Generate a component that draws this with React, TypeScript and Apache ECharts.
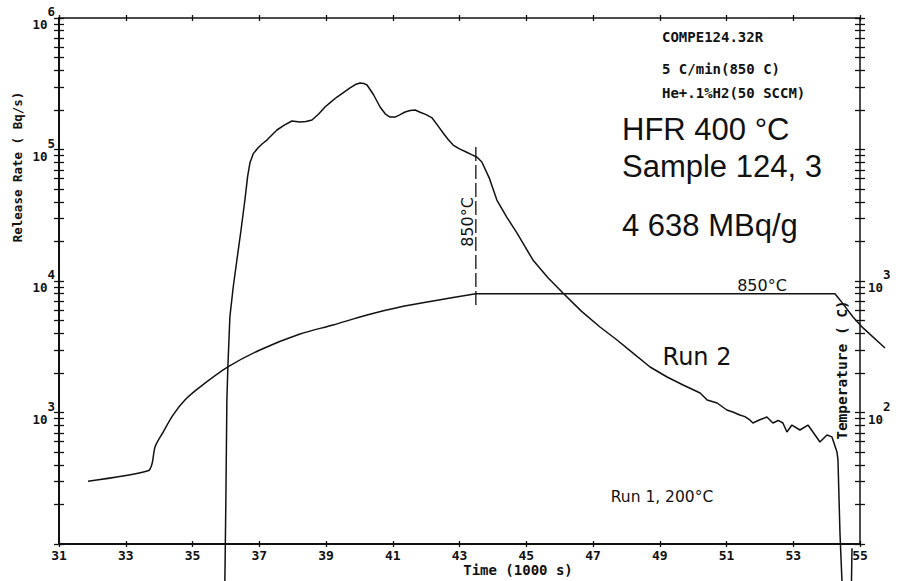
import React, { useEffect, useRef } from "react";
import * as echarts from "echarts";

// ---- Data ----
const timeTicks = [31, 33, 35, 37, 39, 41, 43, 45, 47, 49, 51, 53, 55];

const rateLabelValues = [1e3, 1e4, 1e5, 1e6];
const rateTickValues = [
  100, 200, 300, 400, 500, 600, 700, 800, 900,
  1000, 2000, 3000, 4000, 5000, 6000, 7000, 8000, 9000,
  10000, 20000, 30000, 40000, 50000, 60000, 70000, 80000, 90000,
  100000, 200000, 300000, 400000, 500000, 600000, 700000, 800000, 900000,
  1000000,
];

const tempLabelValues = [100, 1000];
const tempTickValues = [
  10, 20, 30, 40, 50, 60, 70, 80, 90,
  100, 200, 300, 400, 500, 600, 700, 800, 900,
  1000, 2000, 3000, 4000, 5000, 6000, 7000, 8000, 9000,
  10000, 20000, 30000, 40000, 50000, 60000, 70000, 80000, 90000,
  100000,
];

// Run 2 release rate (Bq/s) vs time (1000 s)
const run2Time = [
  35.94, 35.97, 36.0, 36.03, 36.06, 36.12, 36.22, 36.33, 36.45, 36.57,
  36.65, 36.72, 36.82, 36.96, 37.1, 37.23, 37.38, 37.53, 37.75, 37.98,
  38.22, 38.4, 38.58, 38.78, 38.97, 39.15, 39.33, 39.52, 39.72, 39.88,
  40.02, 40.13, 40.23, 40.42, 40.62, 40.78, 40.92, 41.07, 41.22, 41.37,
  41.52, 41.67, 41.82, 42.0, 42.18, 42.35, 42.51, 42.66, 42.81, 43.0,
  43.2, 43.36, 43.52, 43.67, 43.9, 44.12, 44.42, 44.72, 45.2, 45.65,
  46.1, 46.65, 47.21, 47.72, 48.2, 48.71, 49.22, 49.7, 50.21, 50.42,
  50.72, 51.01, 51.19, 51.4, 51.55, 51.7, 51.79, 52.0, 52.21, 52.39,
  52.55, 52.69, 52.81, 52.96, 53.2, 53.44, 53.59, 53.8, 54.01, 54.16,
  54.31, 54.34, 54.4, 54.46, 54.73, 54.76,
];
const run2Rate = [
  26, 52, 216, 1245, 2218, 5325, 9000, 14450, 24000, 41300,
  62000, 78900, 93000, 102600, 111000, 118000, 129000, 140700, 153000, 164800,
  161900, 163000, 167600, 186000, 210400, 230000, 250600, 271000, 294000, 312000,
  320500, 318000, 309500, 262000, 210400, 186000, 176500, 176500, 184000, 192800,
  198000, 199500, 192000, 184000, 173800, 152000, 133400, 119000, 108100, 101000,
  95700, 91500, 87700, 80400, 60000, 41300, 30500, 23200, 14450, 10600,
  8110, 5900, 4470, 3560, 2830, 2218, 1862, 1618, 1406, 1245,
  1181, 1045, 1009, 958, 930, 877, 832, 880, 925, 832,
  870, 832, 711, 803, 736, 803, 711, 597, 675, 652,
  501, 436, 121, 52, 30, 93,
];

// Temperature (°C) vs time (1000 s): heating ramp, then plateau and cool-down
const tempRampTime = [
  31.87, 33.67, 33.79, 33.88, 34.12, 34.42, 34.78, 35.22, 36.06, 37.02,
  38.22, 39.21, 40.23, 41.22, 42.21, 43.49,
];
const tempRampValue = [
  30, 36, 41, 55, 71, 96, 125, 156, 222, 299,
  395, 463, 551, 634, 704, 800,
];
const tempHoldTime = [43.49, 54.25, 54.4, 54.79, 55.09, 55.75];
const tempHoldValue = [800, 800, 718, 532, 440, 309];

// 850 °C marker (dashed)
const markerTime = [43.49, 43.49];
const markerRate = [104500, 6560];

const MONO = "'DejaVu Sans Mono', monospace";
const HAND = "'DejaVu Sans', sans-serif";
const SANS = "'Liberation Sans', Arial, sans-serif";

export default function App() {
  const ref = useRef<HTMLDivElement>(null);

  useEffect(() => {
    if (!ref.current) return;
    const chart = echarts.init(ref.current, null, { renderer: "svg" });

    const powLabel = (v: number) => {
      const p = Math.round(Math.log10(v));
      return `{b|10}{s|${p}}`;
    };
    const rich = {
      b: {
        fontFamily: MONO,
        fontWeight: "bold",
        fontSize: 12.5,
        color: "#111",
        padding: [13, 0, 0, 0],
      },
      s: {
        fontFamily: MONO,
        fontWeight: "bold",
        fontSize: 12.5,
        color: "#111",
        verticalAlign: "top",
      },
    };

    const lineCol = "#111";
    const xBase = (position: string, inside: boolean, labels: boolean, lineW: number, showLine: boolean) => ({
      type: "value",
      position,
      min: 31,
      max: 55,
      splitLine: { show: false },
      axisLine: { show: showLine, onZero: false, lineStyle: { color: lineCol, width: lineW } },
      axisTick: {
        show: true,
        inside,
        length: 3,
        customValues: timeTicks,
        lineStyle: { color: lineCol, width: 1.3 },
      },
      axisLabel: labels
        ? {
            show: true,
            customValues: timeTicks,
            margin: 5,
            fontFamily: MONO,
            fontWeight: "bold",
            fontSize: 13,
            color: "#111",
          }
        : { show: false },
    });

    const yRate = (inside: boolean, labels: boolean) => ({
      type: "log",
      logBase: 10,
      position: "left",
      min: 100,
      max: 1000000,
      splitLine: { show: false },
      axisLine: { show: !inside, onZero: false, lineStyle: { color: lineCol, width: 2 } },
      axisTick: {
        show: true,
        inside,
        length: 5,
        customValues: rateTickValues,
        lineStyle: { color: lineCol, width: 1.3 },
      },
      axisLabel: labels
        ? { show: true, customValues: rateLabelValues, margin: 4, formatter: powLabel, rich }
        : { show: false },
    });

    const yTemp = (inside: boolean, labels: boolean) => ({
      type: "log",
      logBase: 10,
      position: "right",
      min: 10,
      max: 100000,
      splitLine: { show: false },
      axisLine: { show: !inside, onZero: false, lineStyle: { color: lineCol, width: 1.5 } },
      axisTick: {
        show: true,
        inside,
        length: 5,
        customValues: tempTickValues,
        lineStyle: { color: lineCol, width: 1.3 },
      },
      axisLabel: labels
        ? { show: true, customValues: tempLabelValues, margin: 8, formatter: powLabel, rich }
        : { show: false },
    });

    const txt = (
      text: string,
      x: number,
      y: number,
      fontSize: number,
      fontFamily: string,
      opts: any = {}
    ) => ({
      type: "text",
      x,
      y,
      rotation: opts.rotation || 0,
      silent: true,
      z: 100,
      style: {
        text,
        fontSize,
        fontFamily,
        fontWeight: opts.weight || "normal",
        fill: "#111",
        textAlign: opts.align || "left",
        textVerticalAlign: "middle",
        align: opts.align || "left",
        verticalAlign: "middle",
      },
    });

    const option: any = {
      animation: false,
      backgroundColor: "#fff",
      grid: { left: 59, right: 39, top: 18, bottom: 37, containLabel: false },
      xAxis: [
        xBase("bottom", false, true, 2, true),
        xBase("bottom", true, false, 2, false),
        xBase("top", false, false, 1.5, true),
        xBase("top", true, false, 1.5, false),
      ],
      yAxis: [yRate(false, true), yRate(true, false), yTemp(false, true), yTemp(true, false)],
      series: [
        {
          name: "Run 2",
          type: "line",
          xAxisIndex: 0,
          yAxisIndex: 0,
          data: run2Time.map((t, i) => [t, run2Rate[i]]),
          showSymbol: false,
          clip: false,
          smooth: false,
          lineStyle: { color: "#111", width: 1.5 },
        },
        {
          name: "Temperature",
          type: "custom",
          xAxisIndex: 0,
          yAxisIndex: 2,
          clip: false,
          silent: true,
          data: [[tempRampTime[0], tempRampValue[0]]],
          encode: { x: 0, y: 1 },
          renderItem: (_params: any, api: any) => {
            const ramp = tempRampTime.map((t, i) => api.coord([t, tempRampValue[i]]));
            const hold = tempHoldTime.map((t, i) => api.coord([t, tempHoldValue[i]]));
            return {
              type: "group",
              children: [
                {
                  type: "polyline",
                  shape: { points: ramp, smooth: 0.3 },
                  style: { stroke: "#111", lineWidth: 1.5, fill: "none" },
                },
                {
                  type: "polyline",
                  shape: { points: hold },
                  style: { stroke: "#111", lineWidth: 1.5, fill: "none" },
                },
              ],
            };
          },
        },
        {
          name: "850 °C marker",
          type: "line",
          xAxisIndex: 0,
          yAxisIndex: 0,
          data: markerTime.map((t, i) => [t, markerRate[i]]),
          showSymbol: false,
          clip: false,
          lineStyle: { color: "#111", width: 1.3, type: [14, 4] },
        },
      ],
      graphic: [
        txt("COMPE124.32R", 662, 37, 14, MONO, { weight: "bold" }),
        txt("5 C/min(850 C)", 662, 69, 14, MONO, { weight: "bold" }),
        txt("He+.1%H2(50 SCCM)", 662, 92.5, 14, MONO, { weight: "bold" }),
        txt("HFR 400 °C", 622, 129, 31, SANS),
        txt("Sample 124, 3", 622, 166, 31, SANS),
        txt("4 638 MBq/g", 622, 225, 31, SANS),
        txt("850°C", 762, 285, 16, HAND, { align: "center" }),
        txt("850°C", 467, 222, 16, HAND, { align: "center", rotation: Math.PI / 2 }),
        txt("Run 2", 697, 357, 24, HAND, { align: "center" }),
        txt("Run 1, 200°C", 662, 497, 15.5, HAND, { align: "center" }),
        txt("Release Rate ( Bq/s)", 17, 167, 12.5, MONO, { weight: "bold", align: "center", rotation: Math.PI / 2 }),
        txt("Temperature ( C)", 842, 370, 14.5, MONO, { weight: "bold", align: "center", rotation: Math.PI / 2 }),
        txt("Time (1000 s)", 518, 570, 14, MONO, { weight: "bold", align: "center" }),
      ],
    };

    chart.setOption(option);
    return () => chart.dispose();
  }, []);

  return (
    <div
      ref={ref}
      style={{ position: "fixed", left: 0, top: 0, width: 899, height: 581, background: "#fff" }}
    />
  );
}
